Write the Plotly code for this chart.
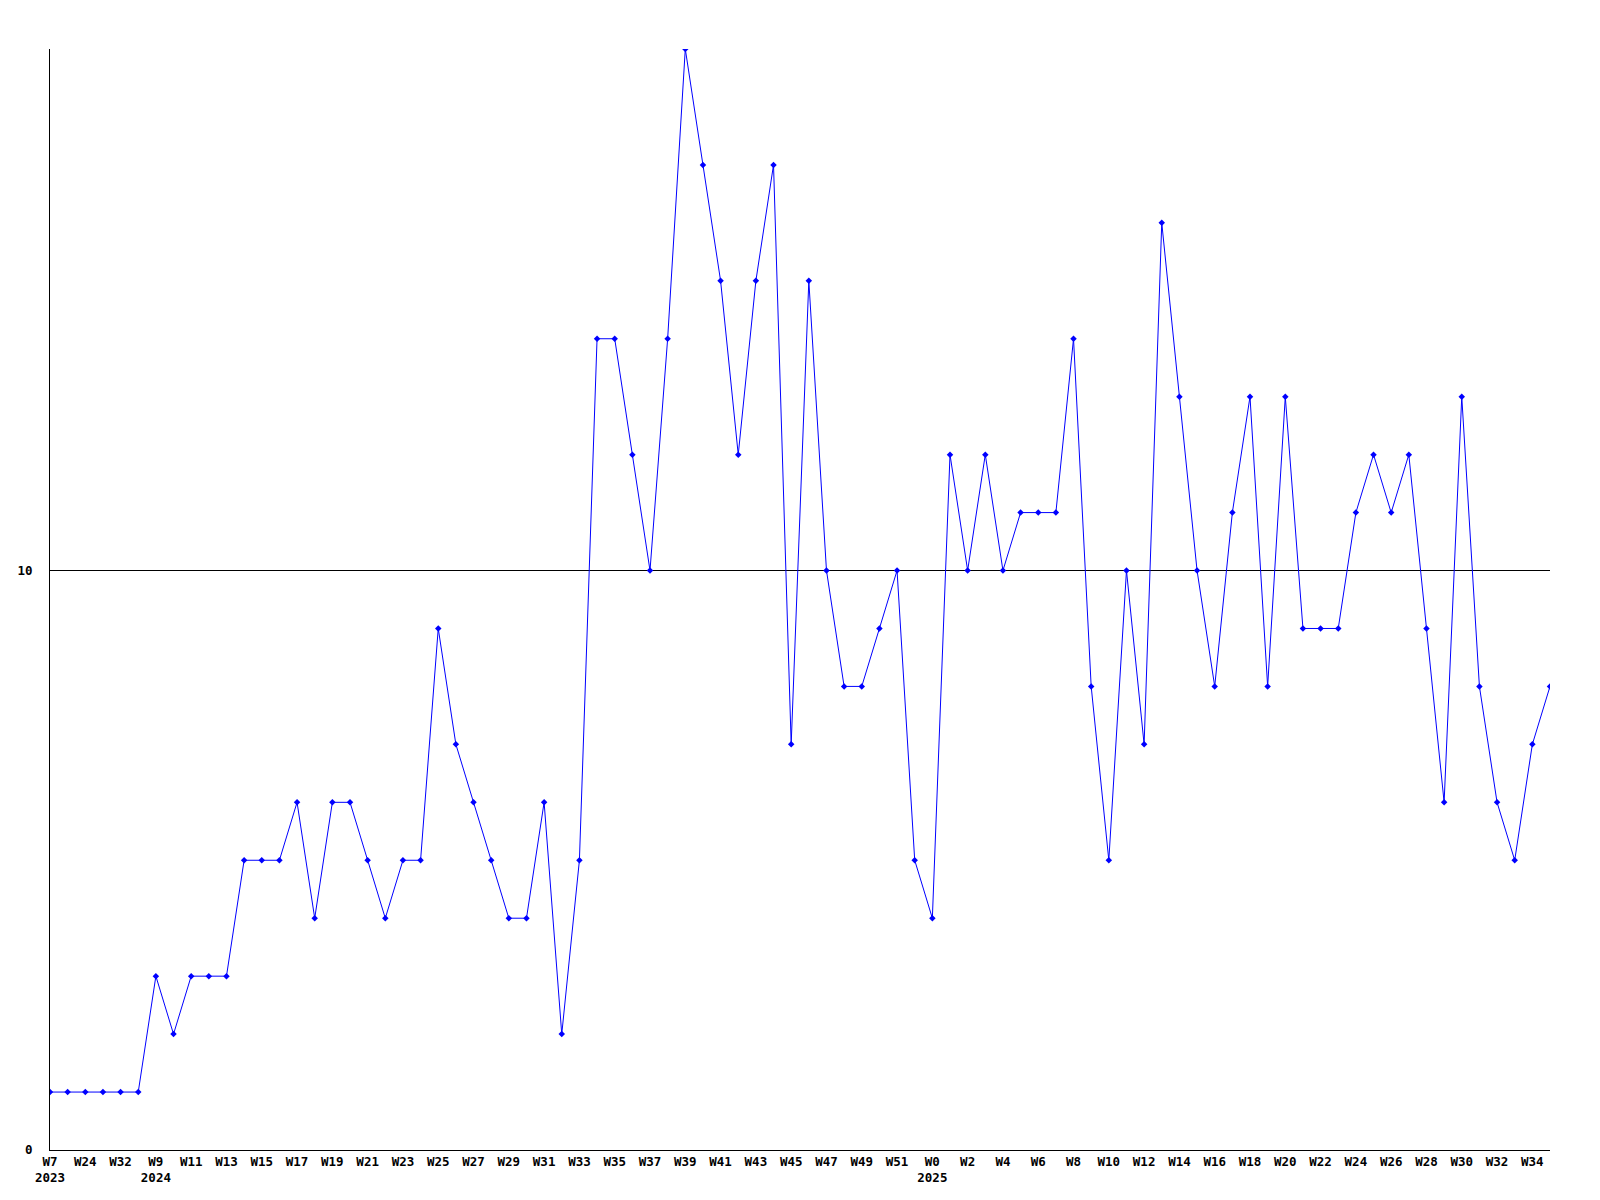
import plotly.graph_objects as go

# Week labels (one per point)
weeks_2023 = ["W7", "W16", "W24", "W28", "W32", "W40"]
weeks_2024 = ["W%d" % w for w in range(9, 53)]
weeks_2025 = ["W%d" % w for w in range(0, 36)]
labels = weeks_2023 + weeks_2024 + weeks_2025
year_marks = {0: "2023", len(weeks_2023): "2024", len(weeks_2023) + len(weeks_2024): "2025"}

values = [1, 1, 1, 1, 1, 1, 3, 2, 3, 3, 3, 5, 5, 5, 6, 4, 6, 6, 5, 4,
          5, 5, 9, 7, 6, 5, 4, 4, 6, 2, 5, 14, 14, 12, 10, 14, 19, 17, 15, 12,
          15, 17, 7, 15, 10, 8, 8, 9, 10, 5, 4, 12, 10, 12, 10, 11, 11, 11, 14, 8,
          5, 10, 7, 16, 13, 10, 8, 11, 13, 8, 13, 9, 9, 9, 11, 12, 11, 12, 9, 6,
          13, 8, 6, 5, 7, 8]

y_tickvals = [0, 10]
y_ticktext = ["0", "10"]

xs = list(range(len(values)))
tickvals = xs[::2]
ticktext = [labels[i] + ("<br>" + year_marks[i] if i in year_marks else "") for i in tickvals]

fig = go.Figure()
fig.add_trace(go.Scatter(
    x=xs, y=values, mode="lines+markers",
    line=dict(color="#0000ff", width=1),
    marker=dict(symbol="diamond", size=5, color="#0000ff"),
    hoverinfo="x+y", showlegend=False,
))

tickfont = dict(family="DejaVu Sans Mono", size=12.5, color="black", weight="bold")

fig.update_layout(
    width=1600, height=1200,
    margin=dict(l=50, r=50, t=49, b=50),
    paper_bgcolor="white", plot_bgcolor="white",
    xaxis=dict(
        range=[0, len(values) - 1], tickmode="array", tickvals=tickvals, ticktext=ticktext,
        showgrid=False, zeroline=False, showline=True, linecolor="black", linewidth=1,
        ticks="", tickfont=tickfont, tickangle=0,
    ),
    yaxis=dict(
        range=[0, 19], tickmode="array", tickvals=y_tickvals, ticktext=y_ticktext,
        showgrid=True, gridcolor="black", gridwidth=1, zeroline=False,
        showline=True, linecolor="black", linewidth=1,
        ticks="", tickfont=tickfont, ticklabelstandoff=14,
    ),
)

fig.write_html(
    "out.html",
    config={"displayModeBar": False},
    post_script="document.body.style.margin='0';document.body.style.overflow='hidden';",
)
